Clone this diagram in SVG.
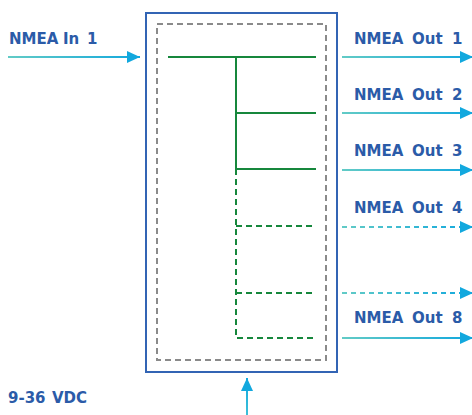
<svg xmlns="http://www.w3.org/2000/svg" width="472" height="415" viewBox="0 0 472 415">
<style>
.lbl{font-family:"DejaVu Sans","Noto Sans",sans-serif;font-weight:bold;font-size:15px;fill:#2b5ba8}
.bus{stroke:#16873c;stroke-width:2;fill:none}
.dash{stroke-dasharray:6,4}
.arr{stroke-width:2;fill:none}
.odash{stroke-dasharray:5,4}
</style>
<defs>
<linearGradient id="gIn" gradientUnits="userSpaceOnUse" x1="8" y1="0" x2="140" y2="0"><stop offset="0" stop-color="#62cbc6"/><stop offset="1" stop-color="#12a8de"/></linearGradient>
<linearGradient id="gOut" gradientUnits="userSpaceOnUse" x1="342" y1="0" x2="472" y2="0"><stop offset="0" stop-color="#62cbc6"/><stop offset="1" stop-color="#12a8de"/></linearGradient>
<linearGradient id="gPw" gradientUnits="userSpaceOnUse" x1="0" y1="415" x2="0" y2="378"><stop offset="0" stop-color="#3cc0d8"/><stop offset="1" stop-color="#12a8de"/></linearGradient>
<marker id="ah" markerUnits="userSpaceOnUse" markerWidth="14" markerHeight="12" refX="13" refY="6" orient="auto"><path d="M0,0 L13,6 L0,12 Z" fill="#12a8de"/></marker>
</defs>
<g id="device">
<rect x="146" y="13" width="191" height="359" fill="none" stroke="#3264b4" stroke-width="2"/>
<rect x="157" y="24" width="169" height="336" fill="none" stroke="#8a8a8a" stroke-width="2" stroke-dasharray="6,4"/>
</g>
<g id="bus">
<path class="bus" d="M168,57 H316 M236,57 V169 M236,113 H316 M236,169 H316"/>
<path class="bus dash" d="M236,169 V338 H316 M236,226 H316 M236,293 H316"/>
</g>
<g id="labels">
<text class="lbl" y="44"><tspan x="9">NMEA</tspan><tspan x="63">In</tspan><tspan x="87">1</tspan></text>
<text class="lbl" y="44"><tspan x="354">NMEA</tspan><tspan x="412">Out</tspan><tspan x="452">1</tspan></text>
<text class="lbl" y="100"><tspan x="354">NMEA</tspan><tspan x="412">Out</tspan><tspan x="452">2</tspan></text>
<text class="lbl" y="156"><tspan x="354">NMEA</tspan><tspan x="412">Out</tspan><tspan x="452">3</tspan></text>
<text class="lbl" y="213"><tspan x="354">NMEA</tspan><tspan x="412">Out</tspan><tspan x="452">4</tspan></text>
<text class="lbl" y="323"><tspan x="354">NMEA</tspan><tspan x="412">Out</tspan><tspan x="452">8</tspan></text>
<text class="lbl" y="403"><tspan x="8">9-36</tspan><tspan x="52">VDC</tspan></text>
</g>
<g id="connectors">
<line class="arr" x1="8" y1="57" x2="140" y2="57" stroke="url(#gIn)" marker-end="url(#ah)"/>
<line class="arr" x1="342" y1="57" x2="473" y2="57" stroke="url(#gOut)" marker-end="url(#ah)"/>
<line class="arr" x1="342" y1="113" x2="473" y2="113" stroke="url(#gOut)" marker-end="url(#ah)"/>
<line class="arr" x1="342" y1="170" x2="473" y2="170" stroke="url(#gOut)" marker-end="url(#ah)"/>
<line class="arr odash" x1="342" y1="227" x2="473" y2="227" stroke="url(#gOut)" marker-end="url(#ah)"/>
<line class="arr odash" x1="342" y1="293" x2="473" y2="293" stroke="url(#gOut)" marker-end="url(#ah)"/>
<line class="arr" x1="342" y1="338" x2="473" y2="338" stroke="url(#gOut)" marker-end="url(#ah)"/>
<line class="arr" x1="247" y1="415" x2="247" y2="378" stroke="url(#gPw)" marker-end="url(#ah)"/>
</g>
</svg>
